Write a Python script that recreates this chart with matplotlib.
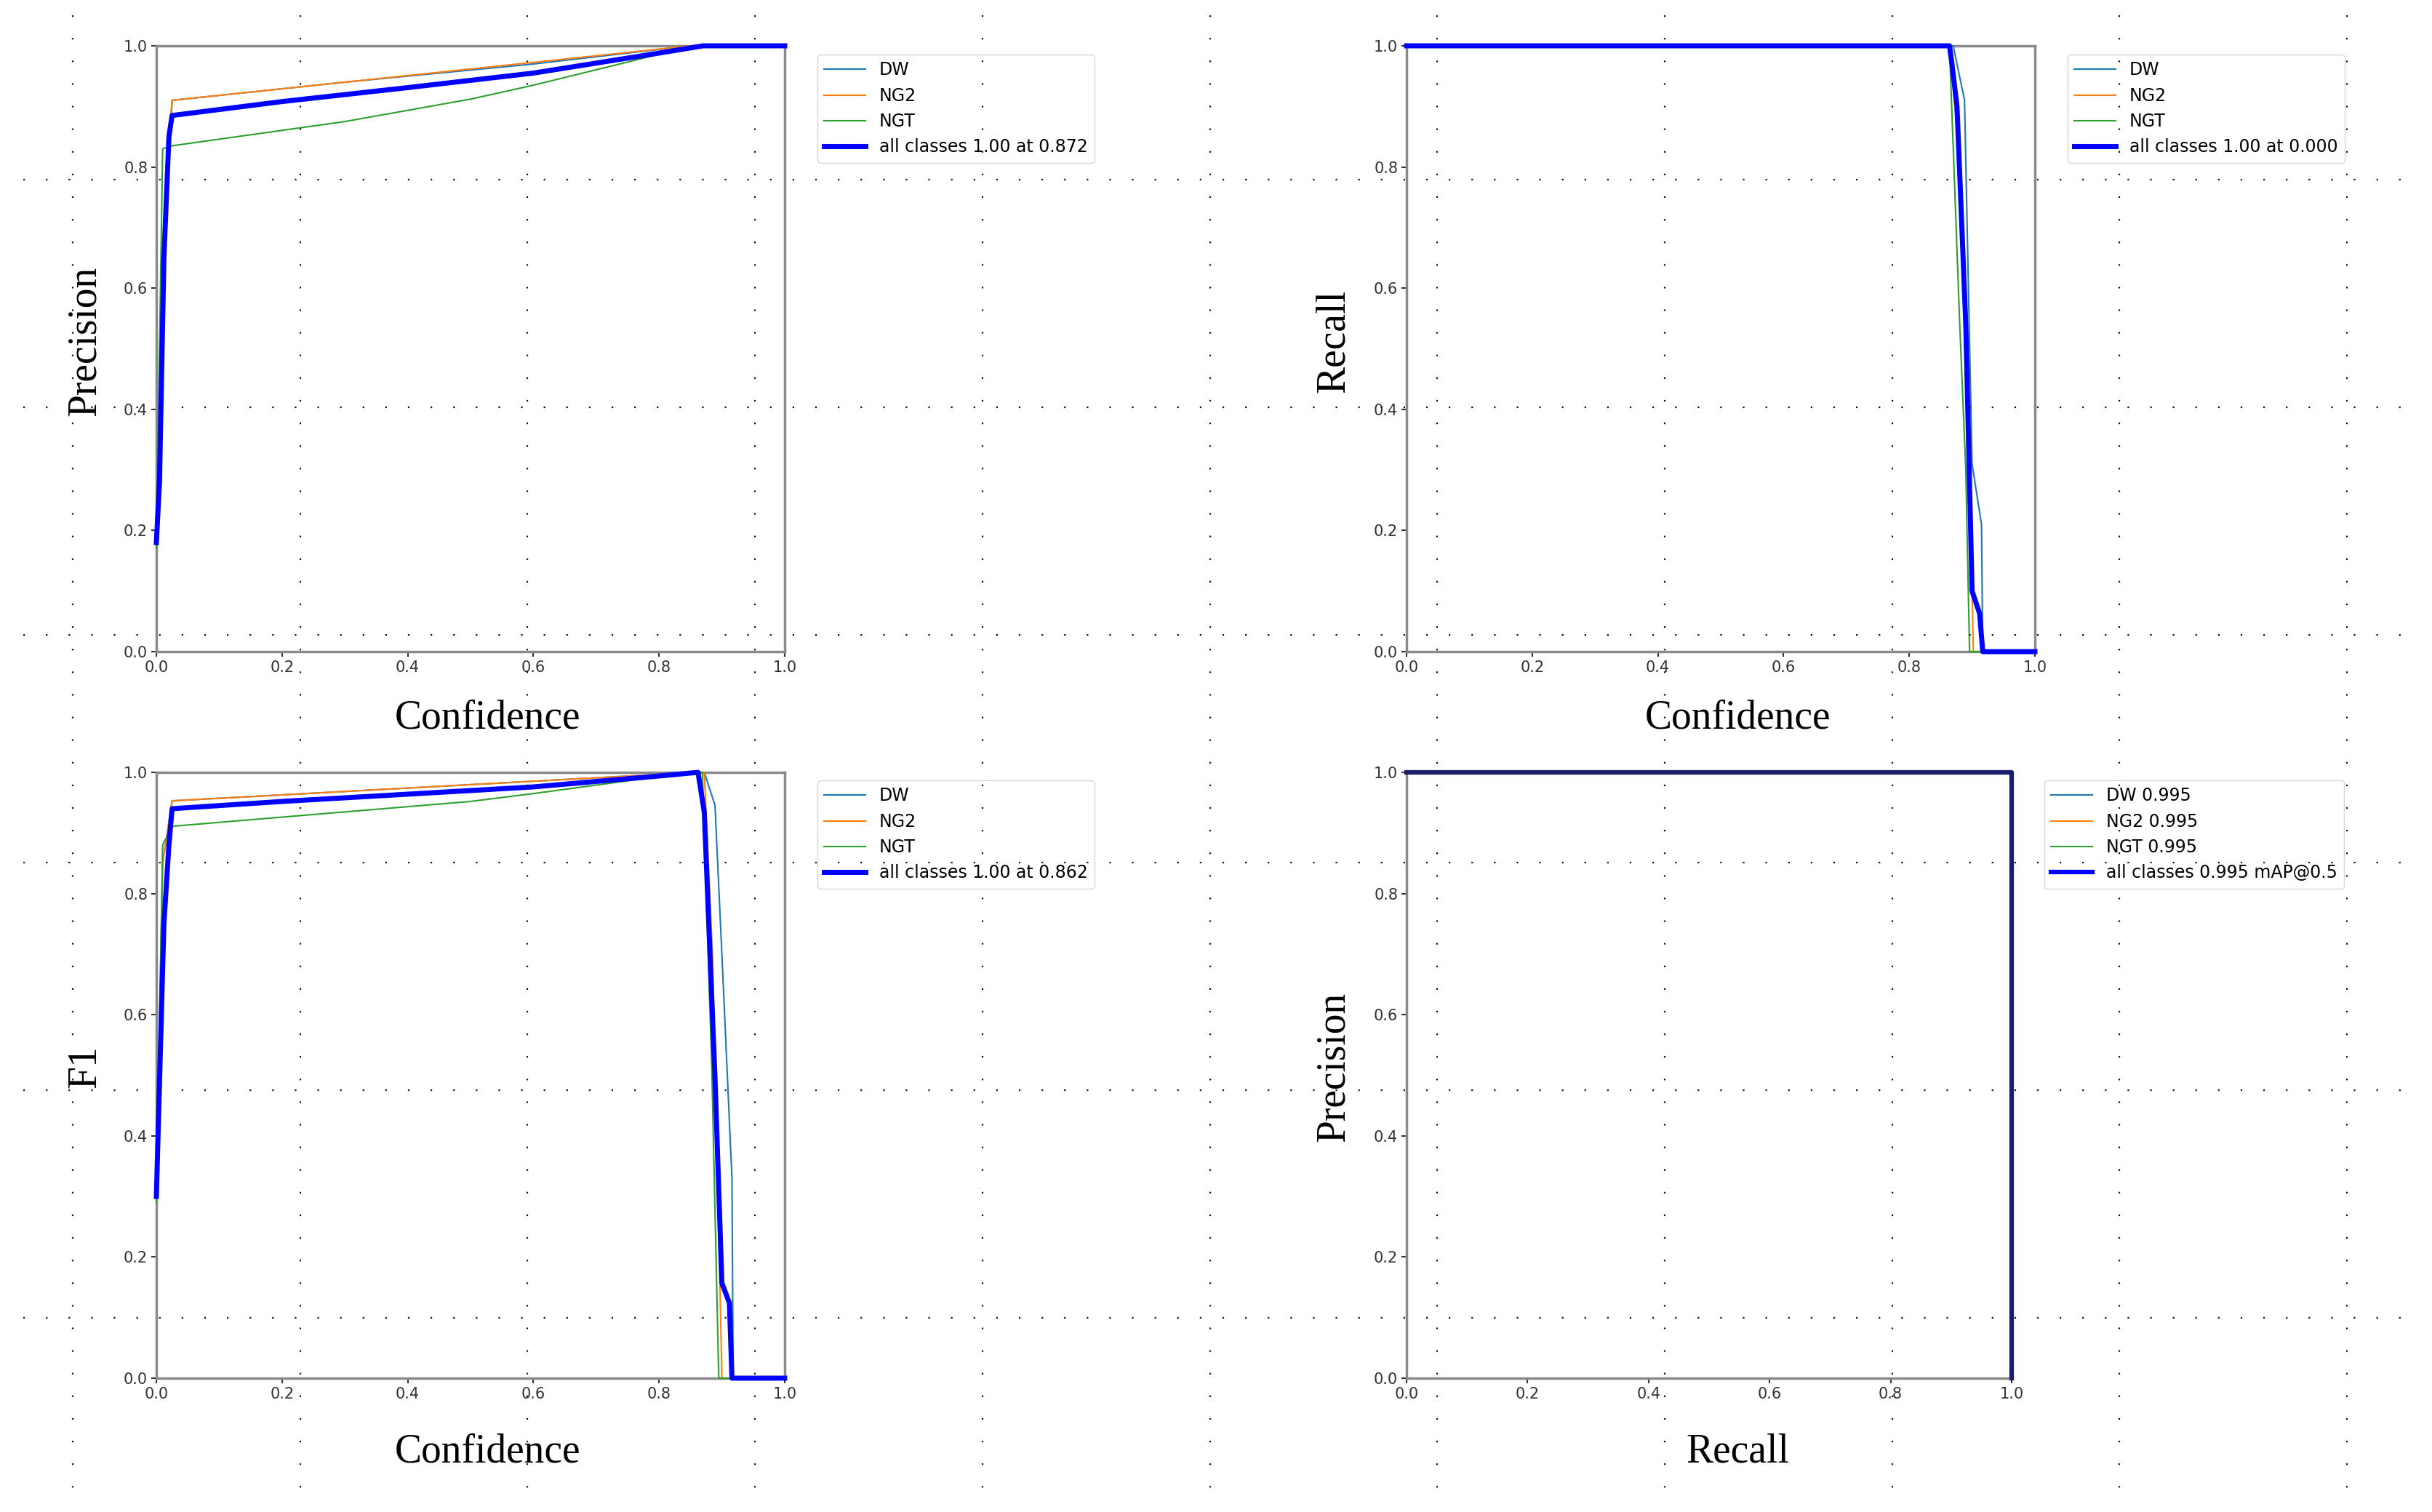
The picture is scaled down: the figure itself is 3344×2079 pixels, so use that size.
import numpy as np
import matplotlib
matplotlib.use("Agg")
import matplotlib.pyplot as plt

# ---- data ----
class_names = ["DW", "NG2", "NGT"]
class_colors = ["#1f77b4", "#ff7f0e", "#2ca02c"]

# Precision-Confidence
p_conf_dw = [0.0, 0.01, 0.025, 0.3, 0.6, 0.85, 1.0]
p_dw = [0.2, 0.6, 0.91, 0.94, 0.97, 1.0, 1.0]
p_conf_ng2 = [0.0, 0.02, 0.025, 0.85, 1.0]
p_ng2 = [0.2, 0.85, 0.91, 1.0, 1.0]
p_conf_ngt = [0.0, 0.01, 0.025, 0.3, 0.5, 0.6, 0.8, 0.86, 1.0]
p_ngt = [0.17, 0.83, 0.835, 0.875, 0.912, 0.935, 0.986, 1.0, 1.0]
p_conf_all = [0.0, 0.005, 0.012, 0.02, 0.025, 0.2, 0.4, 0.6, 0.8, 0.87, 1.0]
p_all = [0.18, 0.28, 0.65, 0.85, 0.885, 0.908, 0.931, 0.955, 0.988, 1.0, 1.0]

# Recall-Confidence
r_conf_dw = [0.0, 0.87, 0.888, 0.9, 0.915, 0.917, 1.0]
r_dw = [1.0, 1.0, 0.91, 0.31, 0.21, 0.0, 0.0]
r_conf_ng2 = [0.0, 0.865, 0.88, 0.9, 0.902, 1.0]
r_ng2 = [1.0, 1.0, 0.8, 0.1, 0.0, 0.0]
r_conf_ngt = [0.0, 0.864, 0.88, 0.89, 0.896, 1.0]
r_ngt = [1.0, 1.0, 0.55, 0.3, 0.0, 0.0]
r_conf_all = [0.0, 0.864, 0.868, 0.876, 0.89, 0.9, 0.912, 0.917, 1.0]
r_all = [1.0, 1.0, 0.97, 0.9, 0.54, 0.1, 0.063, 0.0, 0.0]

# F1-Confidence
f_conf_dw = [0.0, 0.01, 0.025, 0.86, 0.872, 0.889, 0.9, 0.916, 0.918, 1.0]
f_dw = [0.3, 0.85, 0.953, 1.0, 1.0, 0.946, 0.7, 0.33, 0.0, 0.0]
f_conf_ng2 = [0.0, 0.01, 0.025, 0.86, 0.872, 0.885, 0.897, 0.9, 1.0]
f_ng2 = [0.3, 0.85, 0.953, 1.0, 1.0, 0.7, 0.15, 0.0, 0.0]
f_conf_ngt = [0.0, 0.01, 0.025, 0.5, 0.6, 0.85, 0.869, 0.884, 0.895, 1.0]
f_ngt = [0.29, 0.88, 0.911, 0.952, 0.965, 1.0, 1.0, 0.51, 0.0, 0.0]
f_conf_all = [0.0, 0.004, 0.012, 0.02, 0.025, 0.2, 0.4, 0.6, 0.8, 0.862, 0.872,
              0.889, 0.9, 0.912, 0.916, 1.0]
f_all = [0.3, 0.45, 0.75, 0.88, 0.94, 0.952, 0.964, 0.976, 0.994, 1.0, 0.934,
         0.496, 0.157, 0.124, 0.0, 0.0]

# Precision-Recall
pr_recall = [0.0, 1.0, 1.0]
pr_precision = [1.0, 1.0, 0.0]
ap_values = [0.995, 0.995, 0.995]
map50 = 0.995

W, H = 3344, 2079
fig = plt.figure(figsize=(W / 100, H / 100), dpi=100)
fig.patch.set_facecolor("white")

SERIF = ["Liberation Serif", "DejaVu Serif"]


def fig_box(x0, y0, x1, y1):
    return [x0 / W, 1 - y1 / H, (x1 - x0) / W, (y1 - y0) / H]


def style_axes(ax, xlabel, ylabel, xl_pos, yl_pos):
    ax.set_xlim(0, 1)
    ax.set_ylim(0, 1)
    ticks = [0.0, 0.2, 0.4, 0.6, 0.8, 1.0]
    ax.set_xticks(ticks)
    ax.set_yticks(ticks)
    ax.set_xticklabels([f"{t:.1f}" for t in ticks])
    ax.set_yticklabels([f"{t:.1f}" for t in ticks])
    ax.tick_params(labelsize=15, colors="#333333", length=5, width=1.5)
    for s in ax.spines.values():
        s.set_color("#8a8a8a")
        s.set_linewidth(2.5)
    ax.set_xlabel(xlabel, fontsize=40, family=SERIF, va="center")
    ax.set_ylabel(ylabel, fontsize=40, family=SERIF, va="center")
    ax.xaxis.set_label_coords(*xl_pos)
    ax.yaxis.set_label_coords(*yl_pos)


def curve(ax, x, y, **kw):
    ax.plot(x, y, clip_on=False, zorder=3, **kw)


def add_legend(ax, anchor):
    leg = ax.legend(loc="upper left", bbox_to_anchor=(anchor[0] / W, 1 - anchor[1] / H),
                    bbox_transform=fig.transFigure, borderaxespad=0, fontsize=17,
                    handlelength=2.4, labelspacing=0.48)
    return leg


# top-left: precision
ax1 = fig.add_axes(fig_box(215, 63, 1079, 896))
curve(ax1, p_conf_dw, p_dw, color=class_colors[0], lw=1.5, label="DW")
curve(ax1, p_conf_ng2, p_ng2, color=class_colors[1], lw=1.5, label="NG2")
curve(ax1, p_conf_ngt, p_ngt, color=class_colors[2], lw=1.5, label="NGT")
curve(ax1, p_conf_all, p_all, color="blue", lw=5, label="all classes 1.00 at 0.872")
style_axes(ax1, "Confidence", "Precision", (0.527, -0.11), (-0.113, 0.513))
add_legend(ax1, (1124, 75))

# top-right: recall
ax2 = fig.add_axes(fig_box(1934, 63, 2798, 896))
curve(ax2, r_conf_dw, r_dw, color=class_colors[0], lw=1.5, label="DW")
curve(ax2, r_conf_ng2, r_ng2, color=class_colors[1], lw=1.5, label="NG2")
curve(ax2, r_conf_ngt, r_ngt, color=class_colors[2], lw=1.5, label="NGT")
curve(ax2, r_conf_all, r_all, color="blue", lw=5, label="all classes 1.00 at 0.000")
style_axes(ax2, "Confidence", "Recall", (0.527, -0.11), (-0.116, 0.513))
add_legend(ax2, (2843, 75))

# bottom-left: F1
ax3 = fig.add_axes(fig_box(215, 1062, 1079, 1895))
curve(ax3, f_conf_dw, f_dw, color=class_colors[0], lw=1.5, label="DW")
curve(ax3, f_conf_ng2, f_ng2, color=class_colors[1], lw=1.5, label="NG2")
curve(ax3, f_conf_ngt, f_ngt, color=class_colors[2], lw=1.5, label="NGT")
curve(ax3, f_conf_all, f_all, color="blue", lw=5, label="all classes 1.00 at 0.862")
style_axes(ax3, "Confidence", "F1", (0.527, -0.122), (-0.113, 0.514))
add_legend(ax3, (1124, 1073))

# bottom-right: PR
ax4 = fig.add_axes(fig_box(1934, 1062, 2766, 1895))
for name, c, ap in zip(class_names, class_colors, ap_values):
    curve(ax4, pr_recall, pr_precision, color=c, lw=1.5, label=f"{name} {ap:.3f}")
curve(ax4, pr_recall, pr_precision, color="#1c1c6e", lw=4.5,
      label=f"all classes {map50:.3f} mAP@0.5")
style_axes(ax4, "Recall", "Precision", (0.547, -0.122), (-0.12, 0.514))
leg4 = add_legend(ax4, (2811, 1073))
leg4.get_lines()[3].set_color("blue")

# dotted page grid laid over the whole picture
ov = fig.add_axes([0, 0, 1, 1], zorder=20)
ov.set_xlim(0, W)
ov.set_ylim(H, 0)
ov.axis("off")
ov.patch.set_alpha(0)
grid_x = 100 + 312.7 * np.arange(11)
grid_y = 247 + 313.0 * np.arange(6)
ov.vlines(grid_x, 21, 2058, colors="#111111", linewidth=1.6, linestyles=(0, (1, 13)))
ov.hlines(grid_y, 32, 3306, colors="#111111", linewidth=1.6, linestyles=(0, (1, 13)))

fig.savefig("out.png", dpi=100, facecolor="white")
